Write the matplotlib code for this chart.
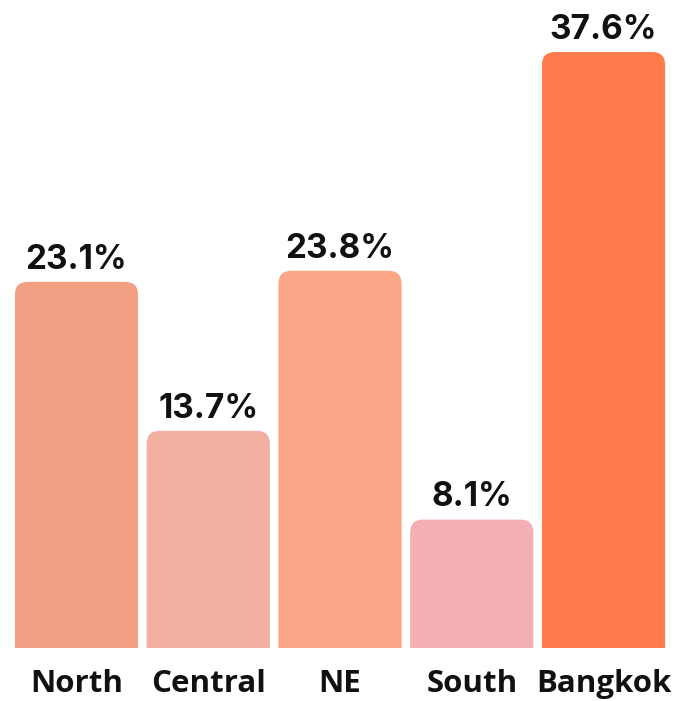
import matplotlib
matplotlib.use("Agg")
import matplotlib.pyplot as plt
from matplotlib.patches import FancyBboxPatch

regions = ["North", "Central", "NE", "South", "Bangkok"]
shares = [23.1, 13.7, 23.8, 8.1, 37.6]
colors = ["#F2A084", "#F2B0A0", "#FBA686", "#F4B0B4", "#FF7B4B"]

W, H, DPI = 680, 701, 100
fig = plt.figure(figsize=(W / DPI, H / DPI), dpi=DPI, facecolor="white")
ax = fig.add_axes([10.6 / W, 1 - 648 / H, 658.8 / W, 634 / H])
ax.set_xlim(-0.5, len(regions) - 0.5)
ax.set_ylim(0, 40)
ax.axis("off")

bar_w = 0.935
bars = ax.bar(range(len(regions)), shares, width=bar_w, color=colors)

# rounded top corners: replace each rectangle by a rounded box that extends
# below the baseline so only the top corners stay visible
px_x = (ax.get_position().width * W) / (len(regions))
px_y = (ax.get_position().height * H) / 40
r_px = 13
rx = r_px / px_x
ry = r_px / px_y
for b in bars:
    x0, w, h = b.get_x(), b.get_width(), b.get_height()
    b.set_visible(False)
    patch = FancyBboxPatch((x0, -2 * ry), w, h + 2 * ry,
                           boxstyle=f"round,pad=0,rounding_size={rx}",
                           mutation_aspect=ry / rx,
                           facecolor=b.get_facecolor(), edgecolor="none")
    ax.add_patch(patch)
    ax.annotate(f"{h:.1f}%", (x0 + w / 2, h), xytext=(0, 9.5),
                textcoords="offset points", ha="center", va="baseline",
                fontsize=24, fontweight="bold", family="Inter", color="#111111")

for i, name in enumerate(regions):
    ax.annotate(name, (i, 0), xytext=(0, -31.5), textcoords="offset points",
                ha="center", va="baseline", fontsize=22.5,
                fontweight="bold", family="Open Sans", color="#111111",
                annotation_clip=False)

fig.savefig("out.png", dpi=DPI, facecolor="white")
